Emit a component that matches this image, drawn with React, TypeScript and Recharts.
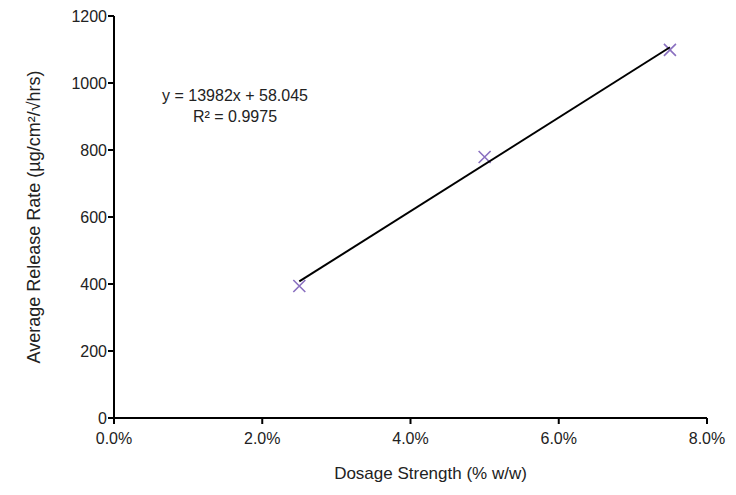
import { ComposedChart, Scatter, XAxis, YAxis, Label } from 'recharts';

const dosage = [0.025, 0.05, 0.075];
const releaseRate = [394, 779, 1099];
const xTicks = [0, 0.02, 0.04, 0.06, 0.08];
const yTicks = [0, 200, 400, 600, 800, 1000, 1200];
const slope = 13982;
const intercept = 58.045;

const points = dosage.map((x, i) => ({ x, y: releaseRate[i] }));
const trend = [dosage[0], dosage[dosage.length - 1]].map((x) => ({ x, y: slope * x + intercept }));

const font = '"Liberation Sans", Arial, sans-serif';

const Cross = (props: any) => {
  const { cx, cy } = props;
  const r = 6;
  return (
    <path
      d={`M${cx - r},${cy - r}L${cx + r},${cy + r}M${cx - r},${cy + r}L${cx + r},${cy - r}`}
      stroke="#8a70c0"
      strokeWidth={1.6}
      fill="none"
    />
  );
};

export default function App() {
  const tick = { fill: '#222', fontSize: 16, fontFamily: font };
  return (
    <div style={{ position: 'absolute', left: 0, top: 0, width: 736, height: 495, background: '#fff' }}>
      <ComposedChart width={736} height={495} margin={{ top: 16, right: 29, bottom: 0, left: 0 }}>
        <XAxis
          type="number"
          dataKey="x"
          domain={[0, 0.08]}
          ticks={xTicks}
          tickFormatter={(v: number) => (v * 100).toFixed(1) + '%'}
          axisLine={{ stroke: '#000', strokeWidth: 2 }}
          tickLine={{ stroke: '#000', strokeWidth: 2 }}
          tickSize={6}
          tickMargin={9}
          tick={tick}
          height={77}
        >
          <Label
            value="Dosage Strength (% w/w)"
            position="insideBottom"
            offset={16}
            dx={20}
            style={{ fill: '#222', fontSize: 17, fontFamily: font }}
          />
        </XAxis>
        <YAxis
          type="number"
          dataKey="y"
          domain={[0, 1200]}
          ticks={yTicks}
          axisLine={{ stroke: '#000', strokeWidth: 2 }}
          tickLine={{ stroke: '#000', strokeWidth: 2 }}
          tickSize={6}
          tickMargin={1}
          tick={tick}
          width={114}
        >
          <Label
            value="Average Release Rate (µg/cm²/√hrs)"
            angle={-90}
            position="insideLeft"
            offset={34}
            style={{ textAnchor: 'middle', fill: '#222', fontSize: 18, fontFamily: font }}
          />
        </YAxis>
        <Scatter data={points} shape={Cross} isAnimationActive={false} />
        <Scatter
          data={trend}
          line={{ stroke: '#000', strokeWidth: 2 }}
          shape={() => <g />}
          isAnimationActive={false}
        />
      </ComposedChart>
      <div
        style={{
          position: 'absolute',
          left: 135,
          top: 85,
          width: 200,
          textAlign: 'center',
          fontFamily: font,
          fontSize: 16,
          lineHeight: '21px',
          color: '#222',
        }}
      >
        <div>y = 13982x + 58.045</div>
        <div>R² = 0.9975</div>
      </div>
    </div>
  );
}
